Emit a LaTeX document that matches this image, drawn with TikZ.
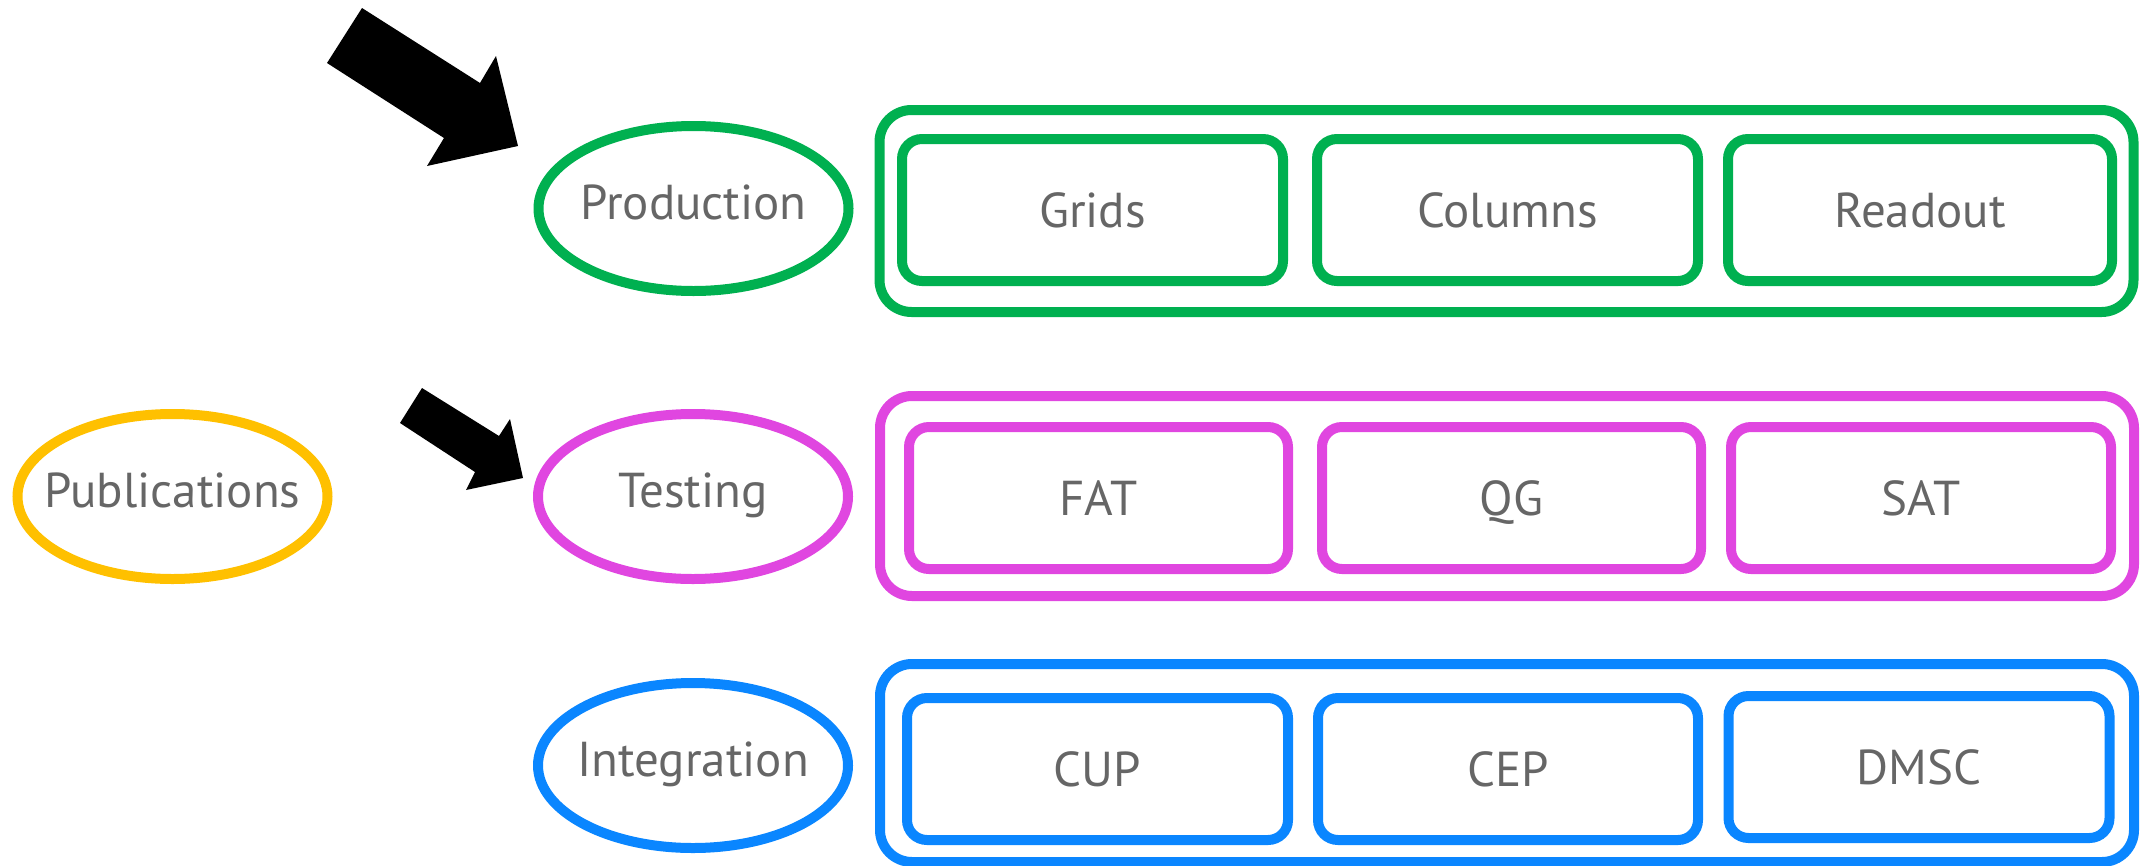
\documentclass[tikz,border=0pt]{standalone}
\usepackage{fontspec}
\setmainfont{PT Sans}
\usetikzlibrary{shapes.geometric}
\definecolor{cgreen}{HTML}{00B050}
\definecolor{cpink}{HTML}{E046E0}
\definecolor{cblue}{HTML}{0A86FF}
\definecolor{cgold}{HTML}{FFC000}
\definecolor{ctext}{HTML}{666666}
\begin{document}
\begin{tikzpicture}[x=1pt,y=-1pt,
  lbl/.style={text=ctext,font=\fontsize{49}{58}\selectfont},
  ovaltext/.style={lbl,inner sep=0pt,text height=35pt,text depth=14pt},
  oval/.style={ellipse,draw,line width=10pt,minimum width=310pt,minimum height=165pt,inner sep=0pt},
  groupbox/.style={rectangle,draw,line width=10pt,rounded corners=32pt,minimum width=1254pt,inner sep=0pt},
  itembox/.style={rectangle,draw,line width=10pt,rounded corners=20pt,minimum width=381pt,minimum height=142pt,inner sep=0pt,lbl,text height=35pt,text depth=0pt},
  blockarrow/.style={fill=black}
]
\useasboundingbox (0,0) rectangle (2149,865);

% ellipses
\node[oval,draw=cgold] (pub) at (172.5,496.5) {};
\node[ovaltext] (pubtext) at (pub.center) {Publications};
\node[oval,draw=cgreen] (prod) at (693.5,208.5) {};
\node[ovaltext] (prodtext) at (prod.center) {Production};
\node[oval,draw=cpink] (test) at (693,496.5) {};
\node[ovaltext] (testtext) at (test.center) {Testing};
\node[oval,draw=cblue] (integ) at (693,765.5) {};
\node[ovaltext] (integtext) at (integ.center) {Integration};

% production group
\node[groupbox,draw=cgreen,minimum height=202pt] (prodgrp) at (1506.5,211) {};
\node[itembox,draw=cgreen] (grids) at (1092.5,210) {Grids};
\node[itembox,draw=cgreen] (columns) at (1507.5,210) {Columns};
\node[itembox,draw=cgreen,minimum width=384pt] (readout) at (1920,210) {Readout};

% testing group
\node[groupbox,draw=cpink,minimum height=200pt] (testgrp) at (1507,496) {};
\node[itembox,draw=cpink,minimum width=379pt] (fat) at (1098.5,498) {FAT};
\node[itembox,draw=cpink,minimum width=379pt] (qg) at (1511.5,498) {QG};
\node[itembox,draw=cpink,minimum width=380pt] (sat) at (1921,498) {SAT};

% integration group
\node[groupbox,draw=cblue,minimum height=198pt] (intgrp) at (1507,763) {};
\node[itembox,draw=cblue] (cup) at (1097.5,769) {CUP};
\node[itembox,draw=cblue,minimum width=380pt] (cep) at (1508,769) {CEP};
\node[itembox,draw=cblue] (dmsc) at (1919,767) {DMSC};

% block arrows
\fill[blockarrow] (362,8) -- (480,83) -- (496,56) -- (518,146) -- (427,166) -- (444,138) -- (327,63) -- cycle;
\fill[blockarrow] (422,388) -- (499,436) -- (510,419) -- (523,478) -- (466,490) -- (475,472) -- (400,423) -- cycle;
\end{tikzpicture}
\end{document}
